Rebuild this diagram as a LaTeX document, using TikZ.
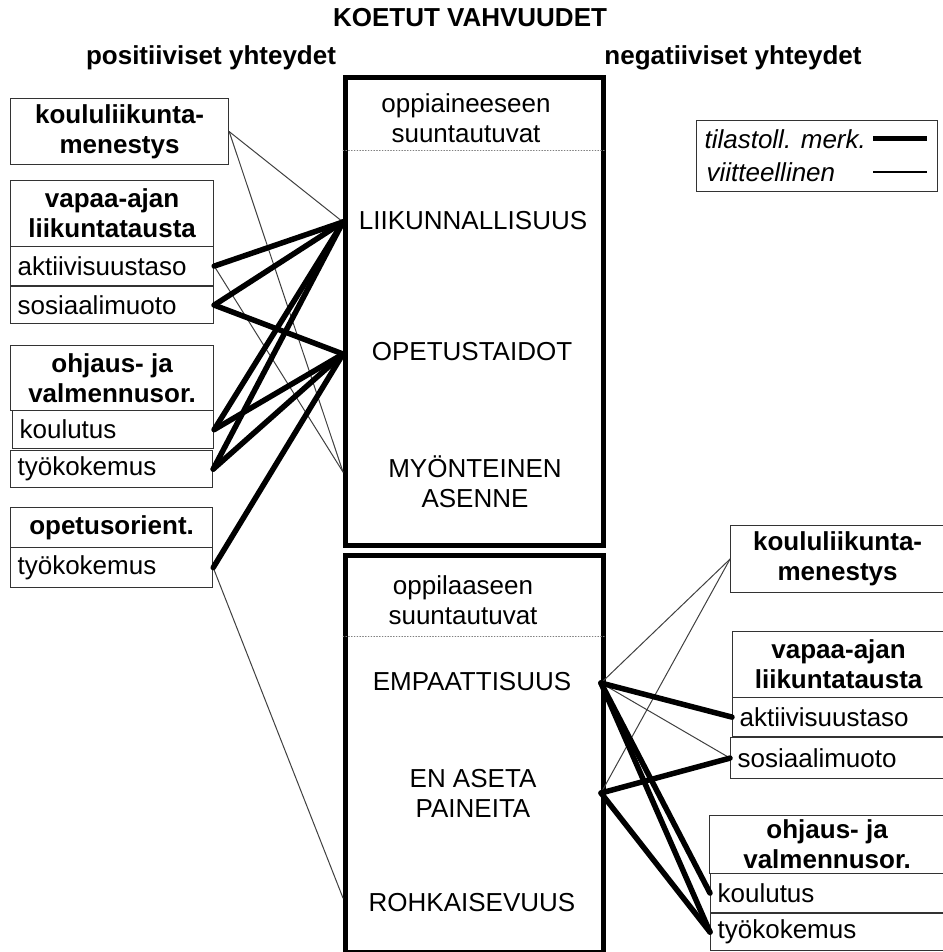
\documentclass[tikz,border=0pt]{standalone}
\usepackage{fontspec}
\setmainfont{Liberation Sans}
\begin{document}
\begin{tikzpicture}[x=1pt,y=-1pt,line cap=round]
  \tikzset{
    every node/.style={font=\fontsize{26}{30}\selectfont},
    hdr/.style={draw=black!80, line width=1.2pt, anchor=north west, align=center,
      inner sep=0pt, font=\fontsize{26}{30}\selectfont\bfseries},
    sub/.style={draw=black!80, line width=1.2pt, anchor=north west, align=left,
      inner xsep=7pt, inner ysep=0pt, text width=#1},
    group/.style={draw, line width=5pt, anchor=north west, inner sep=0pt},
    divider/.style={dotted, line width=0.8pt, gray},
    trait/.style={align=center},
    title/.style={font=\fontsize{26}{30}\selectfont\bfseries},
    signif/.style={line width=5.5pt},
    hint/.style={line width=1pt, black!75}
  }
  \useasboundingbox (0,0) rectangle (942,952);

  % Titles
  \node[title] (ttl) at (470,18) {KOETUT VAHVUUDET};
  \node[title] (pos) at (211,58) {positiiviset yhteydet};
  \node[title] (neg) at (733,58) {negatiiviset yhteydet};

  % Upper group
  \node[group, minimum width=258pt, minimum height=468pt] (upper) at (343,75) {};
  \draw[divider] (upper.west |- 0,150) -- (upper.east |- 0,150);
  \node[trait] (oppA) at (466,118) {oppiaineeseen\\suuntautuvat};
  \node[trait] (liik) at (473,221) {LIIKUNNALLISUUS};
  \node[trait] (opet) at (472,352) {OPETUSTAIDOT};
  \node[trait] (myon) at (475,482) {MYÖNTEINEN\\ASENNE};
  \coordinate (liikW) at (343,222);
  \coordinate (opetW) at (343,354);
  \coordinate (myonW) at (343,472);

  % Lower group
  \node[group, minimum width=258pt, minimum height=397pt] (lower) at (343,553) {};
  \draw[divider] (lower.west |- 0,636) -- (lower.east |- 0,636);
  \node[trait] (oppB) at (463,600) {oppilaaseen\\suuntautuvat};
  \node[trait] (empa) at (472,682) {EMPAATTISUUS};
  \node[trait] (pain) at (473,793) {EN ASETA\\PAINEITA};
  \node[trait] (rohk) at (472,903) {ROHKAISEVUUS};
  \coordinate (empaE) at (601,683);
  \coordinate (painE) at (601,793);
  \coordinate (rohkW) at (343,898);

  % Left side: positive links
  \node[hdr, minimum width=218pt, minimum height=66pt] (klL) at (10,98) {koululiikunta-\\menestys};
  \node[hdr, minimum width=203pt, minimum height=66pt] (vaL) at (10,180) {vapaa-ajan\\liikuntatausta};
  \node[sub=189pt, minimum height=39pt] (akL) at (10,246) {aktiivisuustaso};
  \node[sub=189pt, minimum height=37pt] (soL) at (10,286) {sosiaalimuoto};
  \node[hdr, minimum width=203pt, minimum height=65pt] (ohL) at (10,345) {ohjaus- ja\\valmennusor.};
  \node[sub=187pt, minimum height=38pt] (koL) at (12,410) {koulutus};
  \node[sub=188pt, minimum height=37pt] (tyL) at (10,450) {työkokemus};
  \node[hdr, minimum width=202pt, minimum height=40pt] (opL) at (10,507) {opetusorient.};
  \node[sub=188pt, minimum height=40pt] (toL) at (10,547) {työkokemus};

  % Right side: negative links
  \node[hdr, minimum width=214pt, minimum height=67pt] (klR) at (730,525) {koululiikunta-\\menestys};
  \node[hdr, minimum width=212pt, minimum height=66pt] (vaR) at (732,631) {vapaa-ajan\\liikuntatausta};
  \node[sub=198pt, minimum height=39pt] (akR) at (732,697) {aktiivisuustaso};
  \node[sub=200pt, minimum height=41pt] (soR) at (730,737) {sosiaalimuoto};
  \node[hdr, minimum width=235pt, minimum height=58pt] (ohR) at (709,815) {ohjaus- ja\\valmennusor.};
  \node[sub=220pt, minimum height=39pt] (koR) at (710,873) {koulutus};
  \node[sub=220pt, minimum height=37pt] (tyR) at (710,913) {työkokemus};

  % Legend
  \node[draw=black!80, line width=1.2pt, anchor=north west, minimum width=241pt,
    minimum height=71pt, inner sep=0pt] (legend) at (696,120) {};
  \node[anchor=west, font=\fontsize{26}{30}\selectfont\itshape] (sigT) at (701,139) {tilastoll. merk.};
  \node[anchor=west, font=\fontsize{26}{30}\selectfont\itshape] (hinT) at (703,172) {viitteellinen};
  \coordinate (sigA) at (873,139);
  \coordinate (sigB) at (927,139);
  \coordinate (hinA) at (873,172);
  \coordinate (hinB) at (927,172);
  \draw[line width=5pt, line cap=butt] (sigA) -- (sigB);
  \draw[line width=2pt, line cap=butt] (hinA) -- (hinB);

  % Suggestive links
  \draw[hint] (klL.east) -- (liikW);
  \draw[hint] (klL.east) -- (myonW);
  \draw[hint] (akL.east) -- (myonW);
  \draw[hint] (toL.east) -- (rohkW);
  \draw[hint] (empaE) -- (klR.west);
  \draw[hint] (painE) -- (klR.west);
  \draw[hint] (empaE) -- (soR.west);

  % Significant links
  \draw[signif] (akL.east) -- (liikW);
  \draw[signif] (soL.east) -- (liikW);
  \draw[signif] (soL.east) -- (opetW);
  \draw[signif] (koL.east) -- (liikW);
  \draw[signif] (koL.east) -- (opetW);
  \draw[signif] (tyL.east) -- (liikW);
  \draw[signif] (tyL.east) -- (opetW);
  \draw[signif] (toL.east) -- (opetW);
  \draw[signif] (empaE) -- (akR.west);
  \draw[signif] (painE) -- (soR.west);
  \draw[signif] (empaE) -- (koR.west);
  \draw[signif] (empaE) -- (tyR.west);
  \draw[signif] (painE) -- (tyR.west);
\end{tikzpicture}
\end{document}
